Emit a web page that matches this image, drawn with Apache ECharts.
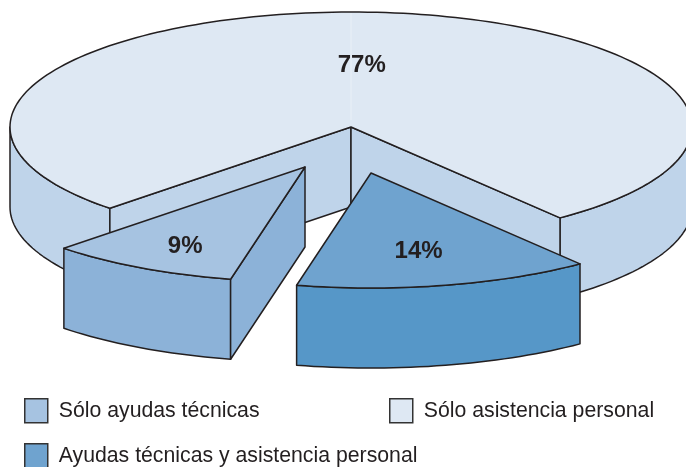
<!DOCTYPE html>
<html>
<head>
<meta charset="utf-8">
<script src="https://cdn.jsdelivr.net/npm/echarts@6/dist/echarts.min.js"></script>
<style>
    html, body { margin: 0; padding: 0; background: #fff; }
    #main { width: 686px; height: 467px; }
</style>
</head>
<body>
<div id="main"></div>
<script>
// data, in drawing order (clockwise from the lower left cut)
var categories = ['Sólo asistencia personal', 'Sólo ayudas técnicas', 'Ayudas técnicas y asistencia personal'];
var values = [77, 9, 14];
// the slices run clockwise 77 -> 14 -> 9 around the pie
var clockwiseOrder = [0, 2, 1];

var topColors = ['#dee8f3', '#a6c3e1', '#6fa3cf'];
var sideColors = ['#bfd4ea', '#8cb2d8', '#5697c8'];
var explode = [[0, 0], [-46, 40], [20, 46]];
var labelRadius = [0.55, 0.76, 0.68];
var labelNudge = [[-1, 2], [5, 3], [-3, 2]];

var INK = '#231f20';
var FONT = '"Liberation Sans", Arial, sans-serif';
var CX = 351, CY = 127, RX = 341, RY = 115, DEPTH = 80;
var START_ANGLE = 135;

var total = values.reduce(function (a, b) { return a + b; }, 0);
var spans = [];
var cursor = START_ANGLE;
clockwiseOrder.forEach(function (idx) {
    var sweep = values[idx] / total * 360;
    spans[idx] = [cursor, cursor + sweep];
    cursor += sweep;
});

function rad(d) { return d * Math.PI / 180; }

function pt(ox, oy, angle, r, dy) {
    return [
        CX + ox + RX * r * Math.cos(rad(angle)),
        CY + oy + RY * r * Math.sin(rad(angle)) + (dy || 0)
    ];
}

function arc(ox, oy, a, b, dy) {
    var pts = [];
    var n = Math.max(2, Math.ceil((b - a) / 1.5));
    for (var i = 0; i <= n; i++) {
        pts.push(pt(ox, oy, a + (b - a) * i / n, 1, dy));
    }
    return pts;
}

function lineStyle(fill) {
    return { fill: fill, stroke: INK, lineWidth: 1.5, lineJoin: 'round' };
}

function renderSlice(params, api) {
    var i = params.seriesIndex;
    var a = spans[i][0], b = spans[i][1];
    var ox = explode[i][0], oy = explode[i][1];
    var children = [];

    // outer wall, only the parts facing the viewer
    [[0, 180], [360, 540]].forEach(function (front) {
        var from = Math.max(a, front[0]), to = Math.min(b, front[1]);
        if (to <= from) return;
        var upper = arc(ox, oy, from, to, 0);
        var lower = arc(ox, oy, from, to, DEPTH).reverse();
        children.push({
            type: 'polygon',
            shape: { points: upper.concat(lower) },
            style: lineStyle(sideColors[i])
        });
    });

    // cut faces
    var apex = [CX + ox, CY + oy];
    var apexLow = [CX + ox, CY + oy + DEPTH];
    [[a, Math.cos(rad(a)) < 0], [b, Math.cos(rad(b)) > 0]].forEach(function (cut) {
        if (!cut[1]) return;
        children.push({
            type: 'polygon',
            shape: { points: [apex, pt(ox, oy, cut[0], 1, 0), pt(ox, oy, cut[0], 1, DEPTH), apexLow] },
            style: lineStyle(sideColors[i])
        });
    });

    // top face
    children.push({
        type: 'polygon',
        shape: { points: [apex].concat(arc(ox, oy, a, b, 0)) },
        style: lineStyle(api.visual('color'))
    });

    // faint seam on the big slice
    if (i === 0) {
        var seamTop = pt(ox, oy, 270, 0.99, 0);
        var seamEnd = pt(ox, oy, 270, 0.06, 0);
        children.push({
            type: 'line',
            shape: { x1: seamTop[0], y1: seamTop[1], x2: seamEnd[0], y2: seamEnd[1] },
            style: { stroke: '#e9f0f7', lineWidth: 1 }
        });
    }

    var labelAt = pt(ox, oy, (a + b) / 2, labelRadius[i], 0);
    children.push({
        type: 'text',
        style: {
            x: labelAt[0] + labelNudge[i][0],
            y: labelAt[1] + labelNudge[i][1],
            text: api.value(0) + '%',
            fill: INK,
            font: 'bold 24px ' + FONT,
            textAlign: 'center',
            textVerticalAlign: 'middle'
        }
    });

    return { type: 'group', children: children };
}

function legendAt(name, left, top) {
    return {
        data: [name],
        left: left,
        top: top,
        padding: 0,
        icon: 'rect',
        itemWidth: 23,
        itemHeight: 24,
        selectedMode: false,
        itemStyle: { borderColor: '#333', borderWidth: 1.5 },
        textStyle: { fontFamily: FONT, fontSize: 21.25, color: INK, padding: [0, 0, 0, 6] }
    };
}

var chart = echarts.init(document.getElementById('main'), null, { renderer: 'canvas' });

chart.setOption({
    animation: false,
    backgroundColor: '#fff',
    tooltip: { show: false },
    legend: [
        legendAt(categories[1], 24, 398),
        legendAt(categories[0], 389, 398),
        legendAt(categories[2], 24, 443)
    ],
    series: categories.map(function (name, i) {
        return {
            name: name,
            type: 'custom',
            coordinateSystem: 'none',
            silent: true,
            itemStyle: { color: topColors[i] },
            renderItem: renderSlice,
            data: [[values[i]]]
        };
    })
});
</script>
</body>
</html>
